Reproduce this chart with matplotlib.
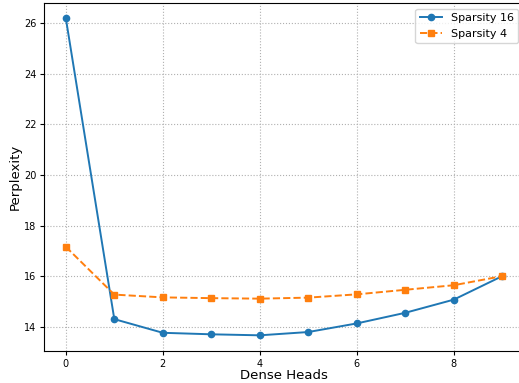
import matplotlib
matplotlib.use("Agg")
import matplotlib.pyplot as plt

dense_heads = [0, 1, 2, 3, 4, 5, 6, 7, 8, 9]
sparsity16 = [26.2, 14.3, 13.76, 13.70, 13.66, 13.79, 14.13, 14.55, 15.07, 16.0]
sparsity4 = [17.16, 15.27, 15.16, 15.13, 15.11, 15.15, 15.28, 15.46, 15.64, 16.0]

fig = plt.figure(figsize=(5.19, 3.83), dpi=100)
ax = fig.add_axes([44/519, 32/383, 480/519, 348/383])
ax.plot(dense_heads, sparsity16, marker='o', linestyle='-', color='#1f77b4',
        linewidth=1.4, markersize=4.5, label='Sparsity 16')
ax.plot(dense_heads, sparsity4, marker='s', linestyle='--', color='#ff7f0e',
        linewidth=1.4, markersize=4.5, label='Sparsity 4')
ax.set_xlim(-0.45, 9.45)
ax.set_ylim(13.04, 26.8)
ax.set_xticks([0, 2, 4, 6, 8])
ax.set_yticks([14, 16, 18, 20, 22, 24, 26])
ax.tick_params(labelsize=7, length=3, pad=2.5)
ax.set_xlabel('Dense Heads', fontsize=9.5, labelpad=0.5)
ax.set_ylabel('Perplexity', fontsize=9.5, labelpad=1.5)
ax.grid(True, linestyle=':', color='#b0b0b0', linewidth=0.8)
ax.legend(loc='upper right', fontsize=8, framealpha=0.8, bbox_to_anchor=(1.0, 1.0))
fig.savefig('out.png', dpi=100)
